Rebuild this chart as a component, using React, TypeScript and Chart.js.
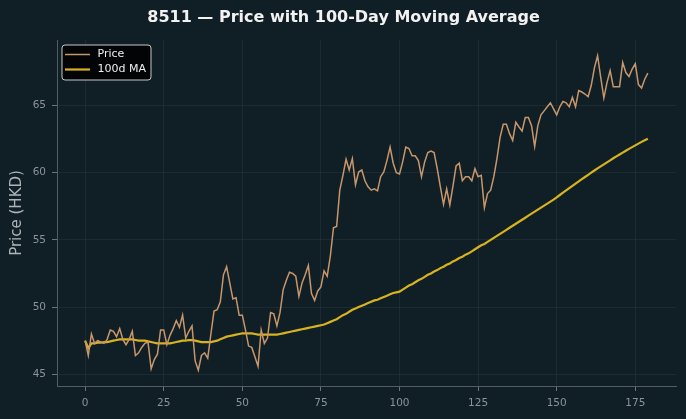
import React, { useEffect, useRef } from "react";
import { Chart, registerables } from "chart.js";

Chart.register(...registerables);

const TITLE = "8511 — Price with 100-Day Moving Average";
const Y_LABEL = "Price (HKD)";
const X_TICKS = [0, 25, 50, 75, 100, 125, 150, 175];
const Y_TICKS = [45, 50, 55, 60, 65];

const price = [
  47.5, 46.4, 48.0, 47.3, 47.5, 47.4, 47.3, 47.6, 48.3, 48.2,
  47.8, 48.4, 47.6, 47.2, 47.6, 48.2, 46.4, 46.6, 47.0, 47.3,
  47.4, 45.4, 46.1, 46.5, 48.3, 48.3, 47.2, 47.9, 48.4, 49.0,
  48.5, 49.4, 47.7, 48.2, 48.6, 46.0, 45.3, 46.4, 46.6, 46.2,
  48.0, 49.7, 49.8, 50.4, 52.4, 53.0, 51.8, 50.6, 50.7, 49.4,
  49.4, 48.3, 47.1, 47.0, 46.3, 45.6, 48.3, 47.3, 47.7, 49.6,
  49.5, 48.6, 49.6, 51.3, 52.0, 52.6, 52.5, 52.3, 50.8, 51.8,
  52.4, 53.1, 51.0, 50.5, 51.2, 51.5, 52.7, 52.3, 53.8, 55.9,
  56.0, 58.7, 59.8, 61.0, 60.2, 61.05, 59.1, 60.05, 60.2, 59.4,
  58.95, 58.7, 58.8, 58.65, 59.7, 60.05, 60.9, 61.9, 60.7, 60.0,
  59.9, 60.8, 61.9, 61.8, 61.25, 61.25, 60.9, 59.7, 60.8, 61.5,
  61.6, 61.5, 60.3, 58.95, 57.65, 58.8, 57.6, 59.0, 60.5, 60.7,
  59.4, 59.7, 59.7, 59.4, 60.3, 59.7, 59.8, 57.4, 58.45, 58.7,
  59.7, 61.05, 62.65, 63.6, 63.6, 62.9, 62.4, 63.75, 63.4, 63.1,
  64.1, 64.1, 63.5, 61.95, 63.5, 64.3, 64.6, 64.9, 65.2, 64.75,
  64.3, 64.9, 65.3, 65.2, 64.9, 65.6, 64.9, 66.1, 66.0, 65.85,
  65.65, 66.5, 67.8, 68.7, 67.1, 65.55, 66.7, 67.6, 66.4, 66.4,
  66.4, 68.2, 67.45, 67.15, 67.7, 68.1, 66.55, 66.3, 66.95, 67.4,
];

const ma100 = [
  47.5, 46.95, 47.3, 47.3, 47.35, 47.35, 47.4, 47.4, 47.45, 47.5,
  47.55, 47.6, 47.6, 47.6, 47.6, 47.6, 47.55, 47.5, 47.5, 47.5,
  47.45, 47.4, 47.35, 47.3, 47.3, 47.3, 47.3, 47.3, 47.35, 47.4,
  47.45, 47.5, 47.5, 47.55, 47.55, 47.5, 47.45, 47.4, 47.4, 47.4,
  47.4, 47.45, 47.5, 47.6, 47.7, 47.8, 47.85, 47.9, 47.95, 48.0,
  48.05, 48.05, 48.05, 48.05, 48.0, 47.95, 47.95, 47.95, 47.95, 47.95,
  47.95, 47.95, 48.0, 48.05, 48.1, 48.15, 48.2, 48.25, 48.3, 48.35,
  48.4, 48.45, 48.5, 48.55, 48.6, 48.65, 48.7, 48.8, 48.9, 49.0,
  49.1, 49.25, 49.4, 49.5, 49.65, 49.8, 49.9, 50.0, 50.1, 50.2,
  50.3, 50.4, 50.5, 50.55, 50.65, 50.75, 50.85, 50.95, 51.05, 51.1,
  51.15, 51.3, 51.45, 51.6, 51.7, 51.85, 52.0, 52.1, 52.25, 52.4,
  52.5, 52.65, 52.75, 52.9, 53.0, 53.15, 53.25, 53.4, 53.5, 53.65,
  53.75, 53.9, 54.0, 54.15, 54.3, 54.45, 54.6, 54.7, 54.85, 55.0,
  55.15, 55.3, 55.45, 55.6, 55.75, 55.9, 56.05, 56.2, 56.35, 56.5,
  56.65, 56.8, 56.95, 57.1, 57.25, 57.4, 57.55, 57.7, 57.85, 58.0,
  58.17, 58.34, 58.51, 58.68, 58.85, 59.02, 59.19, 59.36, 59.52, 59.68,
  59.84, 60.0, 60.16, 60.32, 60.47, 60.62, 60.77, 60.92, 61.07, 61.21,
  61.35, 61.49, 61.63, 61.77, 61.9, 62.03, 62.16, 62.29, 62.41, 62.53,
];

const days = price.map((_, i) => i);

const BG = "#101f26";
const PRICE_COLOR = "#c8966b";
const MA_COLOR = "#d8b31f";
const FONT = "DejaVu Sans";

const decorPlugin = {
  id: "decor",
  afterDraw(chart: any) {
    const ctx = chart.ctx;
    // title, centred on the whole canvas
    ctx.save();
    ctx.fillStyle = "#f2f2f2";
    ctx.font = `bold 16px "${FONT}"`;
    ctx.textAlign = "center";
    ctx.textBaseline = "middle";
    ctx.fillText(TITLE, chart.width / 2 + 0.5, 18);
    ctx.restore();

    // legend inside the plot area, top-left
    const { left, top } = chart.chartArea;
    const x = left + 5;
    const y = top + 5;
    const w = 89;
    const h = 35;
    const r = 3;
    ctx.save();
    ctx.beginPath();
    ctx.moveTo(x + r, y);
    ctx.lineTo(x + w - r, y);
    ctx.arcTo(x + w, y, x + w, y + r, r);
    ctx.lineTo(x + w, y + h - r);
    ctx.arcTo(x + w, y + h, x + w - r, y + h, r);
    ctx.lineTo(x + r, y + h);
    ctx.arcTo(x, y + h, x, y + h - r, r);
    ctx.lineTo(x, y + r);
    ctx.arcTo(x, y, x + r, y, r);
    ctx.closePath();
    ctx.fillStyle = "rgba(0,0,0,0.85)";
    ctx.fill();
    ctx.strokeStyle = "#c8c8c8";
    ctx.lineWidth = 1;
    ctx.stroke();
    const rows = [y + 9.5, y + 24.5];
    chart.data.datasets.forEach((ds: any, i: number) => {
      const ry = rows[i];
      ctx.beginPath();
      ctx.strokeStyle = ds.borderColor;
      ctx.lineWidth = ds.borderWidth;
      ctx.moveTo(x + 3, ry);
      ctx.lineTo(x + 28, ry);
      ctx.stroke();
      ctx.fillStyle = "#eeeeee";
      ctx.font = `11px "${FONT}"`;
      ctx.textBaseline = "middle";
      ctx.textAlign = "left";
      ctx.fillText(ds.label, x + 35.5, ry);
    });
    ctx.restore();
  },
};

export default function App() {
  const ref = useRef<HTMLCanvasElement | null>(null);

  useEffect(() => {
    document.body.style.margin = "0";
    document.body.style.background = BG;
    const canvas = ref.current;
    if (!canvas) return;
    const chart = new Chart(canvas, {
      type: "line",
      data: {
        datasets: [
          {
            label: "Price",
            data: price.map((v, i) => ({ x: days[i], y: v })),
            borderColor: PRICE_COLOR,
            borderWidth: 1.5,
            pointRadius: 0,
            tension: 0,
            fill: false,
          },
          {
            label: "100d MA",
            data: ma100.map((v, i) => ({ x: days[i], y: v })),
            borderColor: MA_COLOR,
            borderWidth: 2.2,
            pointRadius: 0,
            tension: 0,
            fill: false,
          },
        ],
      },
      plugins: [decorPlugin],
      options: {
        responsive: false,
        animation: false,
        devicePixelRatio: 1,
        layout: { padding: { left: 0, right: 10, top: 40, bottom: 0 } },
        font: { family: FONT },
        plugins: {
          legend: { display: false },
          tooltip: { enabled: false },
          title: { display: false },
        },
        scales: {
          x: {
            type: "linear",
            min: -8.95,
            max: 187.95,
            afterBuildTicks: (scale: any) => {
              scale.ticks = X_TICKS.map((v) => ({ value: v }));
            },
            afterFit: (scale: any) => {
              scale.height = 33;
            },
            ticks: {
              color: "#8b9397",
              font: { family: FONT, size: 10.5 },
              padding: 6,
              maxRotation: 0,
              autoSkip: false,
            },
            grid: {
              color: "rgba(255,255,255,0.05)",
              tickColor: "#6a7378",
              tickLength: 5,
            },
            border: { color: "#525c61", width: 1 },
          },
          y: {
            type: "linear",
            min: 44.13,
            max: 69.87,
            afterBuildTicks: (scale: any) => {
              scale.ticks = Y_TICKS.map((v) => ({ value: v }));
            },
            afterFit: (scale: any) => {
              scale.width = 57;
            },
            ticks: {
              color: "#8b9397",
              font: { family: FONT, size: 10.5 },
              padding: 6,
            },
            grid: {
              color: "rgba(255,255,255,0.05)",
              tickColor: "#6a7378",
              tickLength: 5,
            },
            border: { color: "#525c61", width: 1 },
            title: {
              display: true,
              text: Y_LABEL,
              color: "#adb5b9",
              font: { family: FONT, size: 15 },
              padding: { top: 8, bottom: 0 },
            },
          },
        },
      },
    });
    return () => chart.destroy();
  }, []);

  return (
    <div style={{ width: 686, height: 419, background: BG }}>
      <canvas ref={ref} width={686} height={419} style={{ display: "block" }} />
    </div>
  );
}
